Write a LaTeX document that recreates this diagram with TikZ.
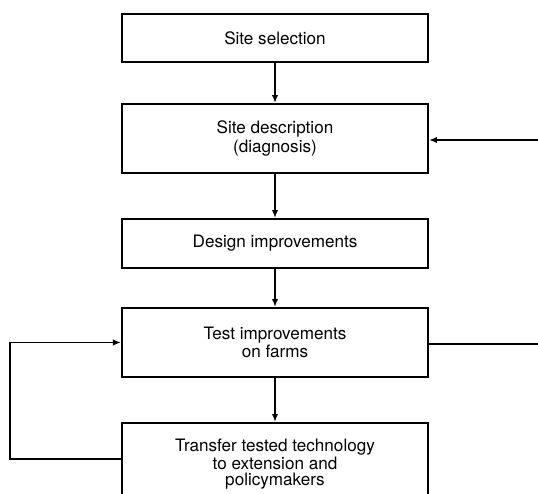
\documentclass[tikz,border=0pt]{standalone}
\usepackage{fontspec}
\setmainfont{TeX Gyre Heros}
\usetikzlibrary{arrows.meta}
\begin{document}
\begin{tikzpicture}[x=0.5pt,y=-0.5pt,
  stage/.style={draw, line width=1pt, minimum width=153pt, align=center,
    inner sep=0pt, font=\fontsize{8.55}{7.7}\selectfont},
  tip/.style={-{Latex[length=4pt,width=3.2pt]}},
  flow/.style={line width=1pt, tip},
  link/.style={line width=0.8pt}]
\useasboundingbox (0,0) rectangle (538,494);
\clip (0,0) rectangle (538,494);

% stages of the procedure, top to bottom
\node[stage, minimum height=24pt]   (sel)      at (275,38)    {Site selection};
\node[stage, minimum height=34.5pt] (desc)     at (275,138.5) {Site description\\(diagnosis)};
\node[stage, minimum height=24.5pt] (design)   at (275,243.5) {Design improvements};
\node[stage, minimum height=34.5pt] (test)     at (275,342.5) {Test improvements\\on farms};
\node[stage, minimum height=41pt]   (transfer) at (275,464)   {Transfer tested technology\\to extension and\\policymakers};

% main sequence
\draw[flow] (sel) -- (desc);
\draw[flow] (desc) -- (design);
\draw[flow] (design) -- (test);
\draw[flow] (test) -- (transfer);

% return path on the right
\coordinate (inright) at (538,140);
\coordinate (outright) at (538,344);
\draw[link, tip] (inright) -- (inright -| desc.east);
\draw[link] (test.east |- outright) -- (outright);

% feedback loop on the left
\coordinate (loopcorner) at (10,459);
\draw[link, tip] (transfer.west |- loopcorner) -- (loopcorner) |- (test.west);
\end{tikzpicture}
\end{document}
